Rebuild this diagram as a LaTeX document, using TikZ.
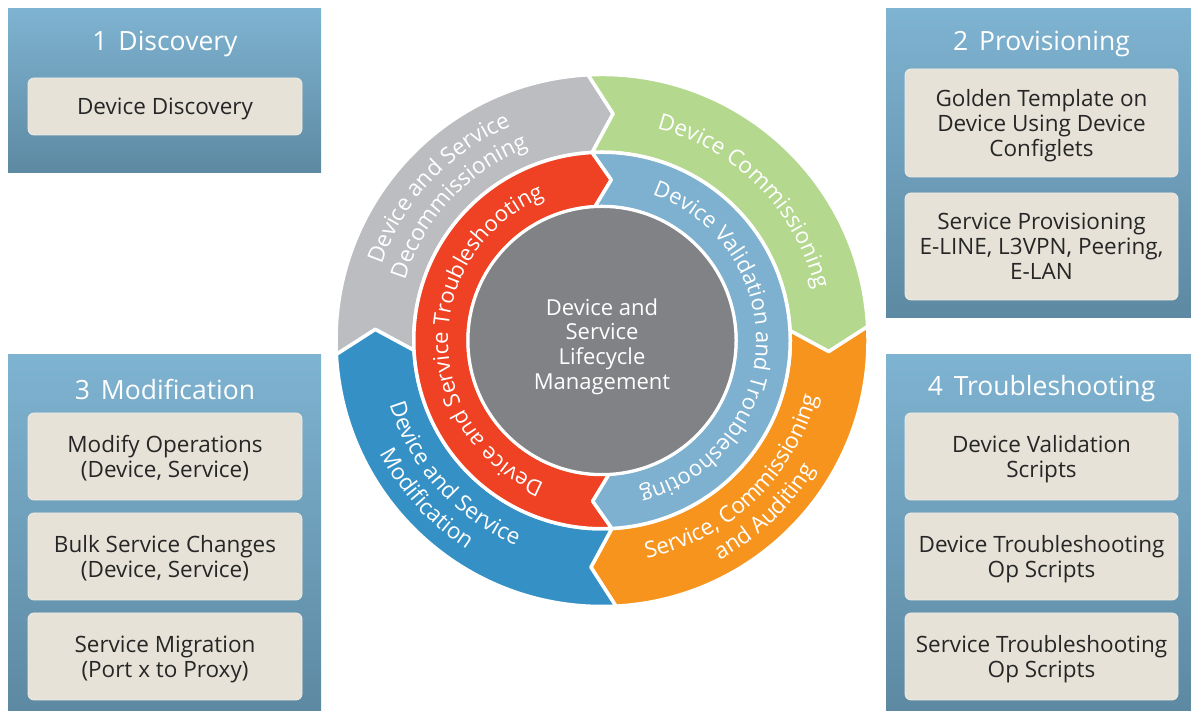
\documentclass[tikz,border=0pt]{standalone}
\usepackage{fontspec}
\setmainfont{Open Sans}
\usetikzlibrary{decorations.text}
\definecolor{panTop}{HTML}{7EB3D1}
\definecolor{panBot}{HTML}{5D89A2}
\definecolor{boxFill}{HTML}{E6E2D7}
\definecolor{boxLine}{HTML}{EFECE6}
\definecolor{segGray}{HTML}{BBBDC0}
\definecolor{segGreen}{HTML}{B4D88E}
\definecolor{segOrange}{HTML}{F7941E}
\definecolor{segBlue}{HTML}{3591C5}
\definecolor{segRed}{HTML}{EF4123}
\definecolor{segLight}{HTML}{7EB1D0}
\definecolor{coreGray}{HTML}{808285}
\newcommand\ringfont{\fontsize{22.5pt}{22.5pt}\selectfont}
\newcommand\innerfont{\fontsize{22pt}{22pt}\selectfont}
\begin{document}
\begin{tikzpicture}[x=1pt,y=1pt,
  panel/.style={top color=panTop,bottom color=panBot},
  paneltitle/.style={text=white,font=\fontsize{26.5pt}{26.5pt}\selectfont,inner sep=0pt},
  itembox/.style={fill=boxFill,draw=boxLine,line width=0.8pt,rounded corners=6pt,
    align=center,text=black!85,font=\fontsize{22.5pt}{25pt}\selectfont,inner sep=0pt,text depth=0pt},
  seg/.style={draw=white,line width=3.5pt,line join=round},
  ringtext/.style={decorate,decoration={text along path,text align=center,text color=white}}
]
\useasboundingbox (0,0) rectangle (1191,711);

% ---------- panels ----------
\shade[panel] (8,538) rectangle (321,702);
\shade[panel] (886,393) rectangle (1191,702);
\shade[panel] (8,0) rectangle (321,356);
\shade[panel] (886,0) rectangle (1191,356);

\node[paneltitle] (t1) at (165,667) {1\hspace{4pt} Discovery};
\node[itembox,minimum width=274pt,minimum height=57pt] (b11) at (165,604.5) {Device Discovery};

\node[paneltitle] (t2) at (1041.5,667) {2\hspace{4pt} Provisioning};
\node[itembox,minimum width=273pt,minimum height=108pt] (b21) at (1041.5,588) {Golden Template on\\Device Using Device\\Configlets};
\node[itembox,minimum width=273pt,minimum height=107pt] (b22) at (1041.5,464.5) {Service Provisioning\\E-LINE, L3VPN, Peering,\\E-LAN};

\node[paneltitle] (t3) at (165,322) {3\hspace{4pt} Modification};
\node[itembox,minimum width=274pt,minimum height=87pt] (b31) at (165,254.5) {Modify Operations\\(Device, Service)};
\node[itembox,minimum width=274pt,minimum height=87pt] (b32) at (165,154.5) {Bulk Service Changes\\(Device, Service)};
\node[itembox,minimum width=274pt,minimum height=87pt] (b33) at (165,54.5) {Service Migration\\(Port x to Proxy)};

\node[paneltitle] (t4) at (1041.5,322) {4\hspace{4pt} Troubleshooting};
\node[itembox,minimum width=273pt,minimum height=87pt] (b41) at (1041.5,254.5) {Device Validation\\Scripts};
\node[itembox,minimum width=273pt,minimum height=87pt] (b42) at (1041.5,154.5) {Device Troubleshooting\\Op Scripts};
\node[itembox,minimum width=273pt,minimum height=87pt] (b43) at (1041.5,54.5) {Service Troubleshooting\\Op Scripts};

% ---------- lifecycle wheel ----------
\begin{scope}[shift={(602,370.5)}]
  % outer ring
  \filldraw[seg,fill=segGray] (183:266pt) arc[start angle=183,end angle=93,radius=266pt]
    -- (87.2:227pt) -- (93:188.25pt) arc[start angle=93,end angle=183,radius=188.25pt]
    -- (177.2:227pt) -- cycle;
  \filldraw[seg,fill=segGreen] (93:266pt) arc[start angle=93,end angle=3,radius=266pt]
    -- (-2.8:227pt) -- (3:188.25pt) arc[start angle=3,end angle=93,radius=188.25pt]
    -- (87.2:227pt) -- cycle;
  \filldraw[seg,fill=segOrange] (3:266pt) arc[start angle=3,end angle=-87,radius=266pt]
    -- (-92.8:227pt) -- (-87:188.25pt) arc[start angle=-87,end angle=3,radius=188.25pt]
    -- (-2.8:227pt) -- cycle;
  \filldraw[seg,fill=segBlue] (273:266pt) arc[start angle=273,end angle=183,radius=266pt]
    -- (177.2:227pt) -- (183:188.25pt) arc[start angle=183,end angle=273,radius=188.25pt]
    -- (267.2:227pt) -- cycle;
  % inner ring
  \filldraw[seg,fill=segRed] (273:188.25pt) arc[start angle=273,end angle=93,radius=188.25pt]
    -- (86.7:161pt) -- (93:134pt) arc[start angle=93,end angle=273,radius=134pt]
    -- (266.7:161pt) -- cycle;
  \filldraw[seg,fill=segLight] (93:188.25pt) arc[start angle=93,end angle=-87,radius=188.25pt]
    -- (-93.3:161pt) -- (-87:134pt) arc[start angle=-87,end angle=93,radius=134pt]
    -- (86.7:161pt) -- cycle;
  % core
  \filldraw[fill=coreGray,draw=white,line width=3pt] (0,0) circle[radius=134pt];
  \node[align=center,text=white,font=\fontsize{22pt}{24.7pt}\selectfont] (core) at (0,-6)
    {Device and\\Service\\Lifecycle\\Management};

  % ring labels
  \path[ringtext,decoration={text={|\ringfont|Device and Service}}]
    (183:233pt) arc[start angle=183,end angle=91,radius=233pt];
  \path[ringtext,decoration={text={|\ringfont|Decommissioning}}]
    (183:206pt) arc[start angle=183,end angle=91,radius=206pt];
  \path[ringtext,decoration={text={|\ringfont|Device Commissioning}}]
    (89:219pt) arc[start angle=89,end angle=0,radius=219pt];
  \path[ringtext,decoration={text={|\ringfont|Service, Commissioning}}]
    (-93:222pt) arc[start angle=-93,end angle=0,radius=222pt];
  \path[ringtext,decoration={text={|\ringfont|and Auditing}}]
    (-93:249pt) arc[start angle=-93,end angle=0,radius=249pt];
  \path[ringtext,decoration={text={|\ringfont|Device and Service}}]
    (180:222pt) arc[start angle=180,end angle=264,radius=222pt];
  \path[ringtext,decoration={text={|\ringfont|Modification}}]
    (180:249pt) arc[start angle=180,end angle=264,radius=249pt];
  \path[ringtext,decoration={text={|\innerfont|Device and Service Troubleshooting}}]
    (270:154pt) arc[start angle=270,end angle=90,radius=154pt];
  \path[ringtext,decoration={text={|\innerfont|Device Validation and Troubleshooting}}]
    (88:154pt) arc[start angle=88,end angle=-93,radius=154pt];
\end{scope}
\end{tikzpicture}
\end{document}
